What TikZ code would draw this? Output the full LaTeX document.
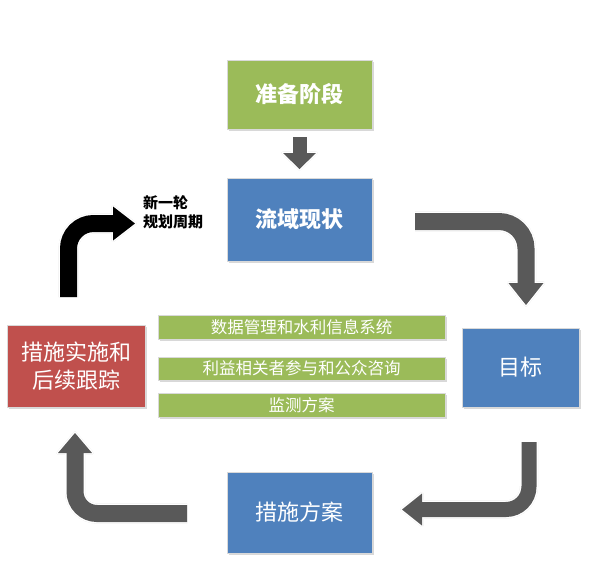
\documentclass[tikz,border=0pt]{standalone}
\usepackage{fontspec}
\setmainfont{Noto Sans CJK SC}
\usetikzlibrary{shadows,calc}
\definecolor{cgreen}{HTML}{9BBB59}
\definecolor{cblue}{HTML}{4F81BD}
\definecolor{cred}{HTML}{C0504D}
\definecolor{cgray}{HTML}{595959}
\newcommand\blockarr[6]{%
  \begin{scope}[shift={(1.2,1.2)}]
    \draw[black!15, line width=#3pt, rounded corners=#4pt] #5;
    \filldraw[black!15, line width=3pt, line join=round] #6;
  \end{scope}
  \draw[white, line width=#3pt, rounded corners=#4pt] #5;
  \filldraw[white, line width=3pt, line join=round] #6;
  \draw[#1, line width=#2pt, rounded corners=#4pt] #5;
  \fill[#1] #6;
}
\tikzset{
  box/.style={draw=white!85!black, line width=0.8pt, inner sep=0pt, text=white,
    align=center, drop shadow={opacity=0.3, shadow xshift=1.5pt, shadow yshift=-1.5pt}},
  bigbold/.style={font=\fontsize{22pt}{26pt}\selectfont\bfseries},
  big/.style={font=\fontsize{22pt}{28pt}\selectfont},
  bartext/.style={font=\fontsize{16.5pt}{20pt}\selectfont},
  bar/.style={box, fill=cgreen, minimum width=287pt, bartext},
  lab/.style={font=\fontsize{15pt}{19pt}\selectfont\bfseries, align=left, inner sep=0pt, text=black}
}
\begin{document}
\begin{tikzpicture}[x=1pt,y=-1pt]
\useasboundingbox (0,0) rectangle (600,582);
\fill[white] (0,0) rectangle (600,582);

% boxes
\node[box, fill=cgreen, minimum width=145pt, minimum height=69pt, bigbold] (prep) at (299.5,94.5) {准备阶段};
\node[box, fill=cblue, minimum width=145pt, minimum height=83pt, bigbold] (status) at (299.5,219.5) {流域现状};
\node[box, fill=cblue, minimum width=117pt, minimum height=79pt, big] (goal) at (520.5,367.5) {目标};
\node[box, fill=cblue, minimum width=145pt, minimum height=81pt, big] (meas) at (299.5,512.5) {措施方案};
\node[box, fill=cred, minimum width=138pt, minimum height=82pt, big] (impl) at (76,366) {措施实施和\\后续跟踪};

\node[bar, minimum height=24pt] (bar1) at (301.5,327) {数据管理和水利信息系统};
\node[bar, minimum height=23pt] (bar2) at (301.5,368.5) {利益相关者参与和公众咨询};
\node[bar, minimum height=24pt] (bar3) at (301.5,405) {监测方案};

\node[lab, anchor=west] (cycle) at (143,212.5) {新一轮\\规划周期};

% arrow anchor coordinates
\coordinate (aS) at (299.5,137);
\coordinate (aE) at (299.5,153);
\coordinate (aT) at (299.5,169);
\coordinate (bS) at (415,221.5);
\coordinate (bE) at (526,283);
\coordinate (bT) at (526,305);
\coordinate (cS) at (529,442);
\coordinate (cE) at (422,509.5);
\coordinate (cT) at (402,509.5);
\coordinate (dS) at (187,513.5);
\coordinate (dE) at (75,453);
\coordinate (dT) at (75,433);
\coordinate (eS) at (68.5,297);
\coordinate (eE) at (113,223.5);
\coordinate (eT) at (135,223.5);

\blockarr{cgray}{14}{17}{0}{(aS) -- ($(aE)+(0,0.5)$)}{($(aE)+(-16.5,0)$) -- ($(aE)+(16.5,0)$) -- (aT) -- cycle}
\blockarr{cgray}{17}{20}{27}{(bS) -| ($(bE)+(0,0.5)$)}{($(bE)+(-17.5,0)$) -- ($(bE)+(17.5,0)$) -- (bT) -- cycle}
\blockarr{cgray}{15}{18}{23}{(cS) |- ($(cE)+(-0.5,0)$)}{($(cE)+(0,-16)$) -- ($(cE)+(0,16)$) -- (cT) -- cycle}
\blockarr{cgray}{17}{20}{22}{(dS) -| ($(dE)+(0,-0.5)$)}{($(dE)+(-17,0)$) -- ($(dE)+(17,0)$) -- (dT) -- cycle}
\blockarr{black}{17}{20}{25}{(eS) |- ($(eE)+(0.5,0)$)}{($(eE)+(0,-17)$) -- ($(eE)+(0,17)$) -- (eT) -- cycle}
\end{tikzpicture}
\end{document}
